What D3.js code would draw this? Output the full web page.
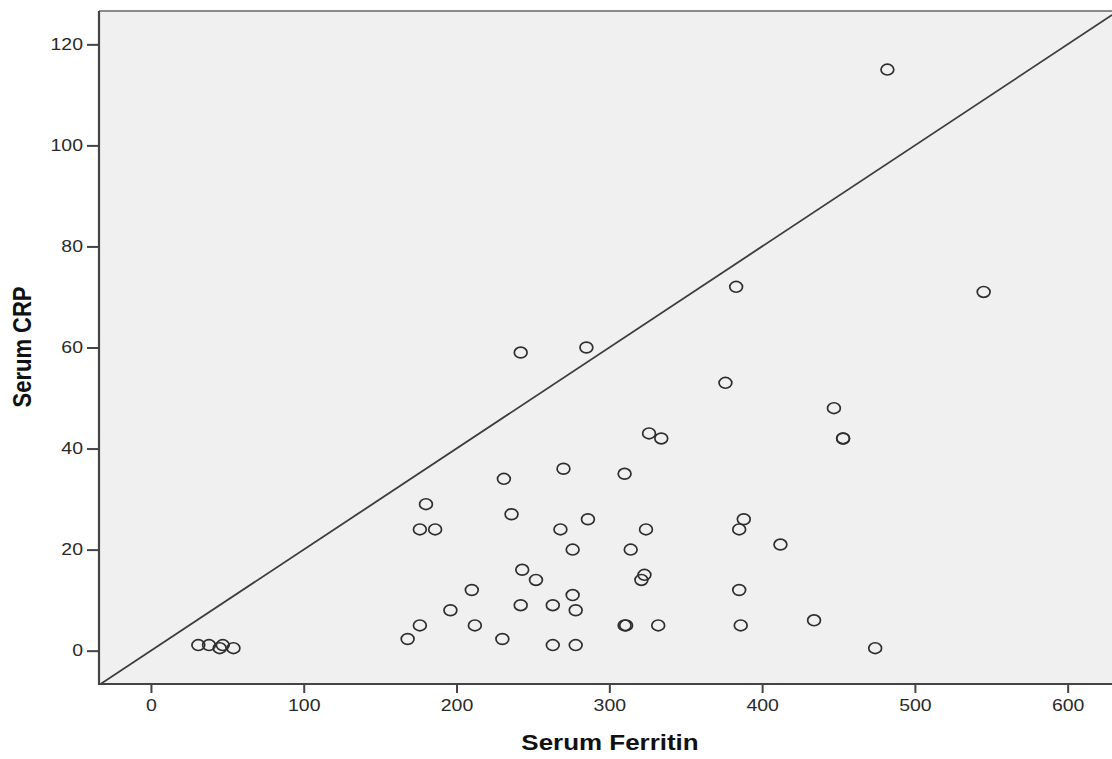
<!DOCTYPE html>
<html>
<head>
<meta charset="utf-8">
<script src="https://cdn.jsdelivr.net/npm/d3@7"></script>
<style>
  body { margin: 0; background: #fff; }
  text { font-family: "Liberation Sans", Arial, sans-serif; }
</style>
</head>
<body>
<div id="chart"></div>
<script>
// Serum Ferritin (x) vs Serum CRP (y)
const ferritin = [
  31, 38, 47, 45, 54,
  168, 176, 176, 180, 186, 196, 210, 212,
  230, 231, 236, 242, 242, 243, 252, 263, 263, 268, 270,
  276, 276, 278, 278, 285, 286,
  310, 310, 311, 314, 321, 323, 324, 326, 332, 334,
  376, 383, 385, 385, 386, 388, 412, 434, 447, 453, 453, 474, 482, 545
];
const crp = [
  1.1, 1.1, 1.1, 0.5, 0.5,
  2.3, 5, 24, 29, 24, 8, 12, 5,
  2.3, 34, 27, 59, 9, 16, 14, 9, 1.1, 24, 36,
  11, 20, 8, 1.1, 60, 26,
  5, 35, 5, 20, 14, 15, 24, 43, 5, 42,
  53, 72, 24, 12, 5, 26, 21, 6, 48, 42, 42, 0.5, 115, 71
];
const xTicks = [0, 100, 200, 300, 400, 500, 600];
const yTicks = [0, 20, 40, 60, 80, 100, 120];
const xDomain = [-34, 629];
const yDomain = [-6.6, 126.6];
const refSlope = 0.2; // diagonal reference line y = 0.2 x

const W = 1112, H = 759;
const pLeft = 99, pTop = 11, pRight = 1112, pBottom = 684;
const stretch = 1.18; // the picture is a little wider than tall

const svg = d3.select("#chart").append("svg")
  .attr("width", W).attr("height", H);

const x = d3.scaleLinear().domain(xDomain).range([pLeft, pRight]);
const y = d3.scaleLinear().domain(yDomain).range([pBottom, pTop]);

svg.append("defs").append("clipPath").attr("id", "plot")
  .append("rect")
  .attr("x", pLeft).attr("y", pTop)
  .attr("width", pRight - pLeft).attr("height", pBottom - pTop);

svg.append("rect")
  .attr("x", pLeft).attr("y", pTop)
  .attr("width", pRight - pLeft + 2).attr("height", pBottom - pTop)
  .attr("fill", "#f0f0f0");

// top border
svg.append("line")
  .attr("x1", pLeft).attr("x2", W).attr("y1", pTop).attr("y2", pTop)
  .attr("stroke", "#8a8a8a").attr("stroke-width", 2);

// reference line
svg.append("line")
  .attr("clip-path", "url(#plot)")
  .attr("x1", x(xDomain[0])).attr("y1", y(refSlope * xDomain[0]))
  .attr("x2", x(xDomain[1])).attr("y2", y(refSlope * xDomain[1]))
  .attr("stroke", "#3c3c3c").attr("stroke-width", 1.8);

// points
const pts = d3.zip(ferritin, crp);
svg.append("g").attr("clip-path", "url(#plot)")
  .selectAll("ellipse").data(pts).join("ellipse")
  .attr("cx", d => x(d[0])).attr("cy", d => y(d[1]))
  .attr("rx", 6.4).attr("ry", 5.4)
  .attr("fill", "none").attr("stroke", "#2e2e2e").attr("stroke-width", 1.7);

// axes
const xAxis = svg.append("g")
  .attr("transform", `translate(0,${pBottom})`)
  .call(d3.axisBottom(x).tickValues(xTicks).tickSize(9).tickPadding(6).tickSizeOuter(0));
const yAxis = svg.append("g")
  .attr("transform", `translate(${pLeft},0)`)
  .call(d3.axisLeft(y).tickValues(yTicks).tickSize(12).tickPadding(4).tickSizeOuter(0));

[xAxis, yAxis].forEach(g => {
  g.select(".domain").attr("stroke", "#444").attr("stroke-width", 2.2);
  g.selectAll(".tick line").attr("stroke", "#444").attr("stroke-width", 2);
  g.selectAll(".tick text")
    .attr("fill", "#2a2a2a").attr("font-size", 16.5)
    .attr("transform", `scale(${stretch},1)`);
});
// keep the domain lines spanning the whole plot
xAxis.select(".domain").attr("d", `M${pLeft - 1},0H${W}`);
yAxis.select(".domain").attr("d", `M0,${pTop}V${pBottom + 1}`);

xAxis.selectAll(".tick text").attr("y", 15);
yAxis.selectAll(".tick text").attr("x", -16 / stretch);

// axis titles
svg.append("text")
  .attr("transform", `translate(610,750) scale(${stretch},1)`)
  .attr("text-anchor", "middle")
  .attr("font-size", 22).attr("font-weight", "bold").attr("fill", "#111")
  .text("Serum Ferritin");

svg.append("text")
  .attr("transform", `translate(31,347) scale(${stretch},1) rotate(-90)`)
  .attr("text-anchor", "middle")
  .attr("font-size", 22).attr("font-weight", "bold").attr("fill", "#111")
  .text("Serum CRP");
</script>
</body>
</html>
